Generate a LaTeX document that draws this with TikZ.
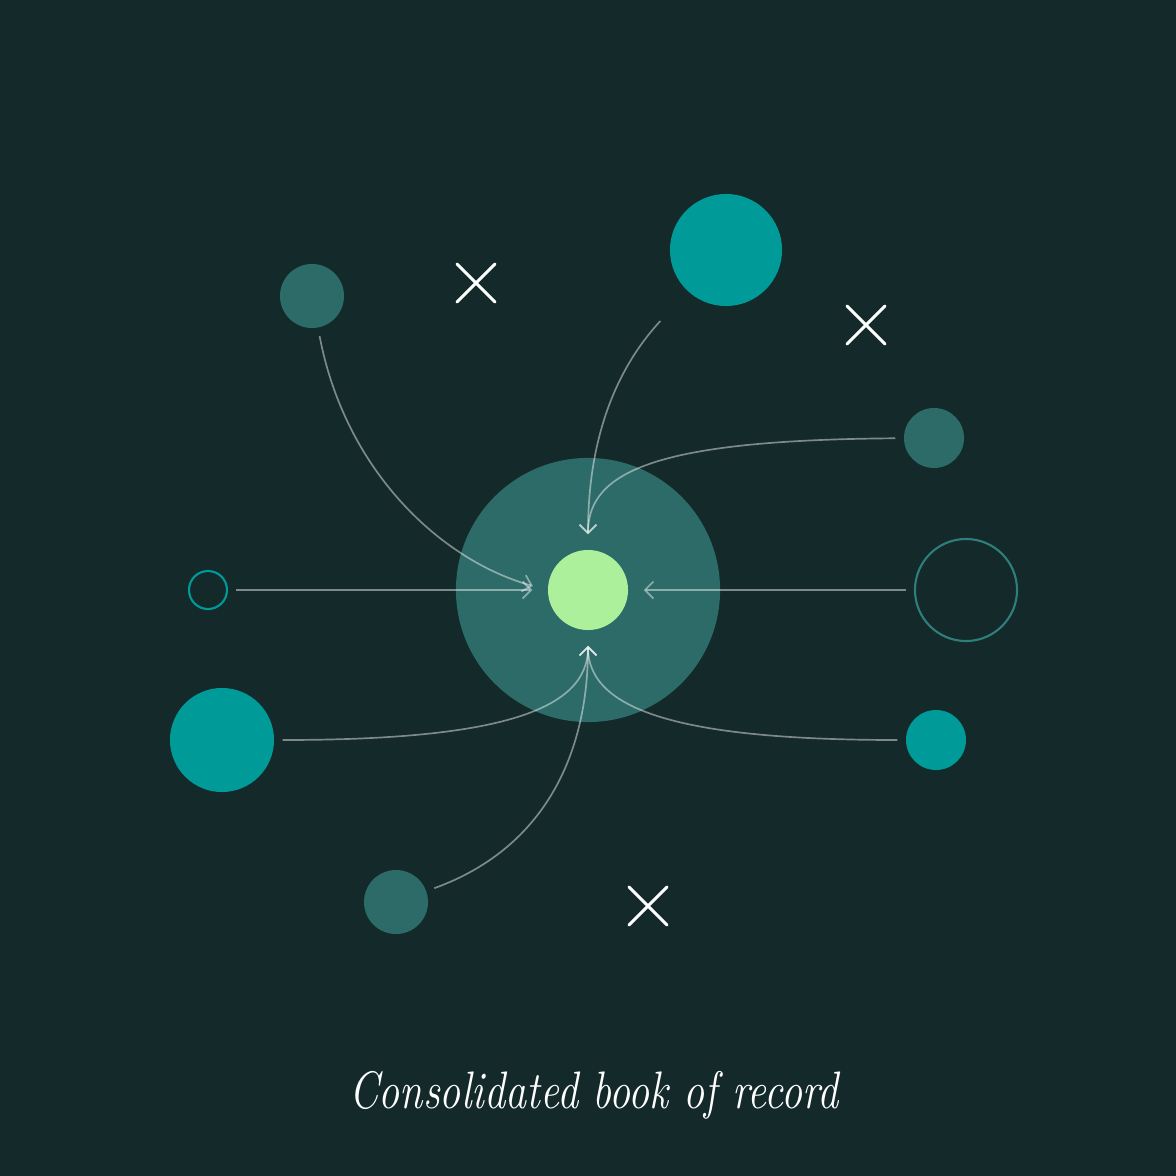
\documentclass[tikz,border=0pt]{standalone}
\usetikzlibrary{arrows.meta}
\definecolor{bgdark}{HTML}{13292A}
\definecolor{haloteal}{HTML}{2D6B69}
\definecolor{brightteal}{HTML}{009A98}
\definecolor{ringteal}{HTML}{2E7F7C}
\definecolor{lime}{HTML}{ADF09B}
\begin{document}
\begin{tikzpicture}[x=0.01cm, y=-0.01cm,
  blob/.style={circle, inner sep=0pt, fill=#1},
  ringnode/.style={circle, inner sep=0pt, draw=#1, line width=0.6pt},
  feed/.style={draw=white, draw opacity=0.45, line width=0.48pt,
    -{Straight Barb[length=2.4pt,width=4.8pt]}, shorten <=0.08cm, shorten >=0.15cm},
  crossmark/.style={white, line width=0.85pt, line cap=round}]
\fill[bgdark] (0,0) rectangle (1176,1176);
\useasboundingbox (0,0) rectangle (1176,1176);

% the consolidated book in the middle
\node[blob=haloteal, minimum size=2.64cm] (halo) at (588,590) {};
\node[blob=lime, minimum size=0.8cm] (hub) at (588,590) {};

% ledgers around it
\node[blob=haloteal, minimum size=0.64cm] (ledgerA) at (312,296) {};
\node[blob=brightteal, minimum size=1.12cm] (ledgerB) at (726,250) {};
\node[blob=haloteal, minimum size=0.6cm] (ledgerC) at (934,438) {};
\node[ringnode=ringteal, minimum size=1.02cm] (ledgerD) at (966,590) {};
\node[blob=brightteal, minimum size=0.6cm] (ledgerE) at (936,740) {};
\node[blob=haloteal, minimum size=0.64cm] (ledgerF) at (396,902) {};
\node[blob=brightteal, minimum size=1.04cm] (ledgerG) at (222,740) {};
\node[ringnode=brightteal, minimum size=0.38cm] (ledgerH) at (208,590) {};

\draw[feed] (ledgerA) .. controls (345,470) and (440,560) .. (hub.west);
\draw[feed, shorten <=0.4cm] (ledgerB) .. controls (615,370) and (588,440) .. (hub.north);
\draw[feed] (ledgerC) .. controls (660,440) and (588,470) .. (hub.north);
\draw[feed] (ledgerD) -- (hub.east);
\draw[feed] (ledgerH) -- (hub.west);
\draw[feed] (ledgerG) .. controls (500,740) and (588,710) .. (hub.south);
\draw[feed] (ledgerE) .. controls (680,740) and (588,710) .. (hub.south);
\draw[feed] (ledgerF) .. controls (540,850) and (588,760) .. (hub.south);

% crossed out ones
\foreach \cx/\cy in {476/283, 866/325, 648/906}
  \draw[crossmark] (\cx-19,\cy-19) -- (\cx+19,\cy+19) (\cx-19,\cy+19) -- (\cx+19,\cy-19);

\node[text=white, font=\itshape\fontsize{15}{17}\selectfont, xscale=0.8] (caption) at (594,1095) {Consolidated book of record};
\end{tikzpicture}
\end{document}
